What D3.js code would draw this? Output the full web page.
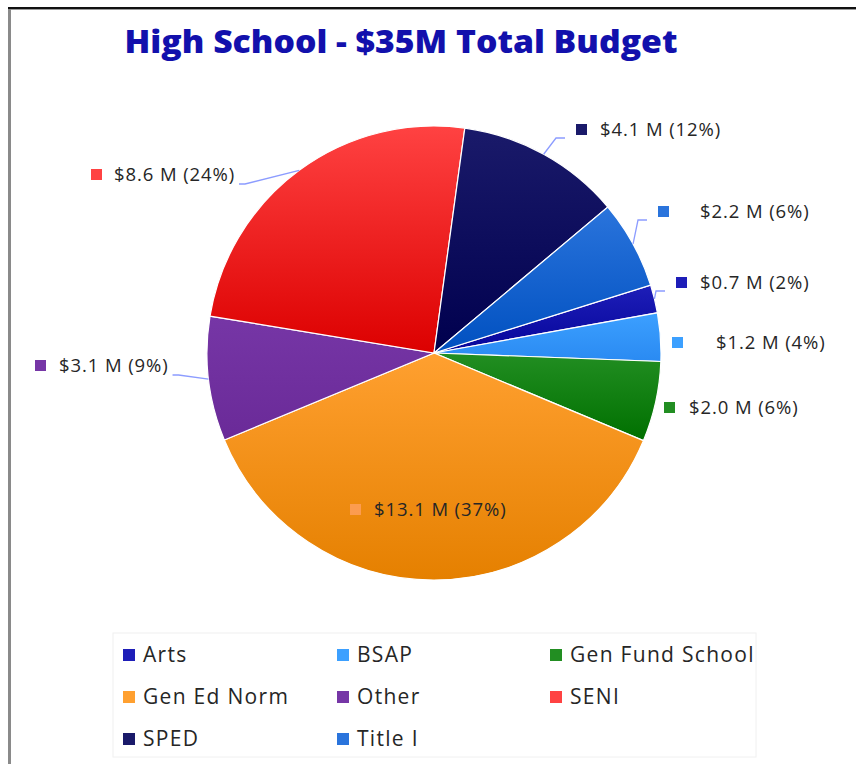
<!DOCTYPE html>
<html>
<head>
<meta charset="utf-8">
<script src="https://cdn.jsdelivr.net/npm/d3@7"></script>
<style>
  body { margin: 0; background: #fff; }
  svg { display: block; }
</style>
</head>
<body>
<svg width="856" height="764"></svg>
<script>
// budget split, in $M, in the order the slices run clockwise
var categories = ["Arts", "BSAP", "Gen Fund School", "Gen Ed Norm", "Other", "SENI", "SPED", "Title I"];
var amounts    = [0.7, 1.2, 2.0, 13.1, 3.1, 8.6, 4.1, 2.2];
var percents   = [2, 4, 6, 37, 9, 24, 12, 6];
var colorsTop  = ["#1e1eb8", "#3ca0ff", "#228e22", "#ffa030", "#7636a6", "#ff4242", "#1a1a6a", "#2a74dc"];
var colorsBot  = ["#05059a", "#2a8af2", "#007000", "#e58000", "#6a2a98", "#dc0000", "#00004e", "#0050c0"];

var svg = d3.select("svg"),
    width = +svg.attr("width"),
    height = +svg.attr("height");

var cx = 434, cy = 353, radius = 227;
var firstAngle = 72.6 * Math.PI / 180;

// frame
svg.append("rect").attr("x", 8).attr("y", 8).attr("width", 3).attr("height", height - 8).attr("fill", "#8a8a8a");
svg.append("rect").attr("x", 8).attr("y", 7).attr("width", width - 8).attr("height", 2).attr("fill", "#111");
svg.append("rect").attr("x", 11).attr("y", 9).attr("width", width - 11).attr("height", 1).attr("fill", "#999");

svg.append("text")
    .attr("x", 401).attr("y", 53)
    .attr("text-anchor", "middle")
    .attr("font-family", "'Open Sans', sans-serif")
    .attr("font-weight", 800)
    .attr("font-size", 31)
    .attr("fill", "#1210ac")
    .attr("textLength", 553)
    .attr("lengthAdjust", "spacingAndGlyphs")
    .text("High School - $35M Total Budget");

var rows = categories.map(function(c, i) {
  return { name: c, value: amounts[i], pct: percents[i], top: colorsTop[i], bot: colorsBot[i] };
});

// one top-to-bottom shade per slice, like the office chart fill
var defs = svg.append("defs");
rows.forEach(function(d, i) {
  var g = defs.append("linearGradient")
      .attr("id", "grad" + i)
      .attr("x1", 0).attr("y1", 0).attr("x2", 0).attr("y2", 1);
  g.append("stop").attr("offset", "0%").attr("stop-color", d.top);
  g.append("stop").attr("offset", "100%").attr("stop-color", d.bot);
});

var pie = d3.pie()
    .sort(null)
    .value(function(d) { return d.value; })
    .startAngle(firstAngle)
    .endAngle(firstAngle + 2 * Math.PI);

var arc = d3.arc().innerRadius(0).outerRadius(radius);

var arcs = pie(rows);

svg.append("g")
    .attr("transform", "translate(" + cx + "," + cy + ")")
  .selectAll("path")
  .data(arcs)
  .enter().append("path")
    .attr("d", arc)
    .attr("fill", function(d, i) { return "url(#grad" + i + ")"; })
    .attr("stroke", "#fff")
    .attr("stroke-width", 1.2);

// where each data label sits (square x, text x, middle y) and which side its leader goes
var labelLayout = [
  { sq: 676, tx: 700, y: 283, leader: "right" },
  { sq: 672, tx: 716, y: 343, leader: null },
  { sq: 664, tx: 689, y: 408, leader: null },
  { sq: 350, tx: 374, y: 510, leader: null },
  { sq: 35,  tx: 59,  y: 366, leader: "left" },
  { sq: 91,  tx: 114, y: 175, leader: "left" },
  { sq: 576, tx: 600, y: 130, leader: "right" },
  { sq: 658, tx: 700, y: 212, leader: "right" }
];

var labels = svg.append("g");
arcs.forEach(function(a, i) {
  var L = labelLayout[i], d = a.data;
  var t = labels.append("text")
      .attr("x", L.tx).attr("y", L.y).attr("dy", "0.35em")
      .attr("font-family", "'Open Sans', sans-serif")
      .attr("font-size", 18.5)
      .attr("letter-spacing", 0.9)
      .attr("fill", "#262626")
      .text("$" + d3.format(".1f")(d.value) + " M (" + d.pct + "%)");
  labels.append("rect")
      .attr("x", L.sq).attr("y", L.y - 6)
      .attr("width", 11).attr("height", 11)
      .attr("fill", i === 3 ? "#ffa060" : d.top)
      .attr("opacity", i === 3 ? 0.8 : 1);

  if (L.leader) {
    var mid = (a.startAngle + a.endAngle) / 2;
    var p0 = [cx + radius * Math.sin(mid), cy - radius * Math.cos(mid)];
    var end, bend;
    if (L.leader === "right") {
      end = [L.sq - 11, L.y + 8];
      bend = [end[0] - 9, end[1]];
    } else {
      var w = t.node().getComputedTextLength();
      end = [L.tx + w + 4, L.y + 9];
      bend = [end[0] + 6, end[1]];
    }
    labels.append("path")
        .attr("d", d3.line()([p0, bend, end]))
        .attr("fill", "none")
        .attr("stroke", "#8c9cff")
        .attr("stroke-width", 1.3);
  }
});

// legend
var legend = svg.append("g");
legend.append("rect")
    .attr("x", 113).attr("y", 633).attr("width", 643).attr("height", 124)
    .attr("fill", "none").attr("stroke", "#f0f0f0");

var colX = [123, 337, 550], rowY = [655, 697, 739];
rows.forEach(function(d, i) {
  var x = colX[i % 3], y = rowY[Math.floor(i / 3)];
  legend.append("rect")
      .attr("x", x).attr("y", y - 6).attr("width", 12).attr("height", 12)
      .attr("fill", d.top);
  legend.append("text")
      .attr("x", x + 20).attr("y", y).attr("dy", "0.35em")
      .attr("font-family", "'Open Sans', sans-serif")
      .attr("font-size", 21)
      .attr("letter-spacing", 1.3)
      .attr("fill", "#262626")
      .text(d.name);
});
</script>
</body>
</html>
